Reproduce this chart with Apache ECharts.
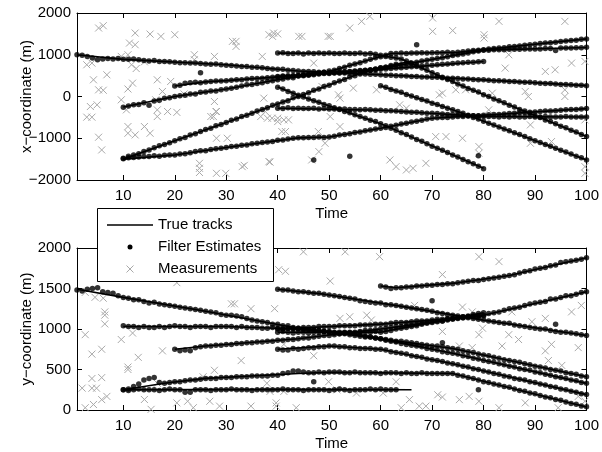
<!DOCTYPE html>
<html>
<head>
<meta charset="utf-8">
<script src="https://cdn.jsdelivr.net/npm/echarts@6/dist/echarts.min.js"></script>
<style>
  html, body { margin: 0; padding: 0; background: #fff; }
  #chart { width: 602px; height: 452px; }
</style>
</head>
<body>
<div id="chart"></div>
<script>
// track order: A C E F B D H I J G
var estStart = [1, 10, 10, 10, 20, 40, 40, 40, 40, 60];

// true tracks, x-coordinate, [time, x] corner points
var xTrue = [
  [[1,1000],[10,890],[30,760],[44,610],[57,540],[74,440],[100,260]],
  [[10,-250],[20,0],[30,180],[40,400],[50,600],[62,1030],[75,1060],[100,1380]],
  [[10,-1500],[20,-1060],[30,-620],[44,0],[57,600],[66,850]],
  [[10,-1500],[20,-1400],[30,-1220],[44,-990],[50,-970],[60,-760],[70,-520],[80,-450],[100,-290]],
  [[20,250],[26,350],[30,380],[40,470],[44,500],[57,620],[66,800],[80,1110],[100,1175]],
  [[40,1040],[58,1030],[64,900],[75,300],[100,-960]],
  [[40,225],[44,30],[60,-650],[80,-1720]],
  [[40,-280],[60,-330],[80,-480],[100,-490]],
  [[40,480],[60,650],[80,840]],
  [[60,257],[75,-358],[100,-1520]]
];

// true tracks, y-coordinate
var yTrue = [
  [[1,1490],[10,1390],[26,1220],[44,1010],[60,880],[74,760],[100,410]],
  [[10,1030],[30,1030],[44,1000],[55,940],[74,700],[100,329]],
  [[10,250],[40,255],[66,250]],
  [[10,250],[18,330],[26,390],[44,450],[50,465],[74,450],[100,36]],
  [[20,750],[26,790],[44,880],[60,1000],[80,1170],[100,1460]],
  [[40,1490],[49,1430],[65,1270],[80,1110],[100,920]],
  [[40,1000],[60,1060],[80,1160]],
  [[40,750],[50,790],[60,750],[74,570],[100,190]],
  [[40,960],[60,960],[80,1200]],
  [[60,1530],[63,1510],[75,1570],[85,1660],[100,1880]]
];

// filter estimates, one value per time step from estStart
var xEst = [
  [1000,990,960,920,880,900,910,900,910,890, 890,900,880,860,850,860,840,840,830,820,810,810,800,800,790,780,770,780,760,750,
   740,730,720,720,700,700,690,670,660,650,650,630,620,610, 600,600,590,580,580,570,570,560,560,550,550,540,540,
   530,530,520,510,510,500,500,490,480,480,470,470,460,460,450,440,440,
   430,420,420,410,400,400,390,380,380,370,360,360,350,340,340,330,320,310,310,300,290,290,280,270,270,260],
  [-260,-230,-200,-190,-150,-210,-110,-90,-40,-30,0, 20,30,60,60,100,110,130,130,160,180, 200,220,250,280,290,310,330,360,380,400,
   420,450,450,490,500,510,550,560,580,610, 630,670,700,750,780,810,850,890,930,950,990,1030,
   1030,1040,1030,1040,1040,1050,1040,1050,1050,1050,1060,1050,1060,
   1070,1090,1100,1110,1120,1140,1150,1160,1170,1190,1200,1210,1230,1240,1250,1270,1280,1290,1300,1320,1330,1340,1350,1370,1380],
  [-1480,-1430,-1400,-1370,-1320,-1280,-1230,-1180,-1150,-1110,-1060,-1010,-980,-920,-890,-840,-790,-760,-700,-670,-620,
   -570,-540,-480,-450,-400,-350,-310,-270,-210,-180,-130,-100,-30,0, 50,90,150,180,240,270,330,370,410,470,500,560,600,
   630,660,690,700,740,770],
  [-1490,-1470,-1460,-1450,-1440,-1440,-1420,-1430,-1410,-1400,-1400, -1380,-1370,-1350,-1320,-1300,-1300,-1270,-1250,-1240,-1220,
   -1200,-1190,-1170,-1160,-1130,-1120,-1100,-1090,-1080,-1050,-1040,-1020,-1000,-990, -990,-980,-980,-970,-980,-970,
   -950,-920,-910,-890,-860,-850,-820,-800,-780,-760, -740,-710,-690,-660,-640,-610,-590,-570,-540,-520,
   -510,-500,-500,-490,-480,-480,-470,-460,-460,-450,
   -440,-430,-430,-420,-410,-400,-390,-390,-380,-370,-360,-350,-350,-340,-330,-320,-310,-310,-300,-290],
  [250,270,320,330,340,330,350, 360,370,370,380, 390,400,400,420,430,430,440,450,460,470, 480,480,490,500,
   510,520,520,540,550,550,560,570,580,590,600,610,620, 640,650,680,700,720,740,760,780,800,
   820,850,870,890,910,930,950,980,1000,1020,1040,1070,1090,1110,
   1110,1120,1120,1120,1130,1130,1130,1140,1140,1140,1140,1150,1150,1100,1160,1160,1160,1170,1170,1180],
  [1040,1050,1030,1030,1040,1020,1040,1030,1040,1030,1040,1030,1030,1040,1030,1030,1040,1020,1030,
   1010,990,960,940,920,900, 850,790,740,680,630,570,520,460,410,360,300,
   250,190,150,110,40,0,-60,-100,-150,-210,-250,-310,-350,-400,-460,-500,-560,-600,-650,-710,-750,-810,-850,-910,-960],
  [220,180,120,80,30, -10,-60,-100,-140,-190,-220,-270,-300,-360,-390,-440,-480,-520,-570,-600,-650,
   -700,-760,-810,-870,-910,-970,-1030,-1070,-1130,-1190,-1240,-1290,-1340,-1400,-1450,-1510,-1560,-1610,-1670,-1730],
  [-280,-290,-270,-290,-280,-290,-290,-280,-300,-290,-300,-300,-310,-300,-310,-310,-320,-310,-320,-330,-330,
   -340,-340,-350,-360,-370,-380,-380,-390,-400,-400,-410,-420,-430,-430,-440,-450,-460,-460,-470,-480,
   -480,-480,-490,-480,-490,-480,-490,-490,-480,-490,-490,-480,-490,-490,-490,-480,-490,-490,-490,-490],
  [480,490,500,500,510,520,530,540,550,560,570,580,590,590,600,610,620,630,630,640,650,
   660,670,680,690,700,710,720,730,740,750,760,770,780,790,800,810,820,820,830,840],
  [260,220,170,130,100,50,10,-30,-70,-110,-160,-190,-240,-280,-320,-360,
   -400,-450,-500,-540,-590,-640,-680,-730,-780,-820,-870,-910,-960,-1010,-1060,-1100,-1150,-1190,-1240,-1290,-1330,-1380,-1430,-1470,-1520]
];

var yEst = [
  [1480,1470,1490,1500,1510,1460,1450,1440,1410,1390, 1380,1360,1360,1340,1320,1330,1310,1300,1290,1280,1270,1260,1250,1240,1230,1220,
   1210,1200,1180,1170,1170,1160,1150,1130,1110,1100,1090,1080,1060,1060,1040,1040,1020,1010,
   1000,990,990,980,970,960,950,940,940,930,920,910,900,900,890,880, 870,860,850,850,840,830,820,810,800,790,790,780,770,760,
   750,730,720,710,690,680,670,650,640,620,610,600,590,570,560,540,530,520,500,490,480,460,450,440,420,410],
  [1040,1030,1030,1020,1030,1020,1020,1030,1020,1030,1040,1030,1030,1020,1030,1030,1030,1020,1030,1030,1030,
   1030,1020,1030,1020,1020,1020,1010,1010,1020,1010,1000,1010,1000,1000, 990,990,980,980,970,970,960,950,950,950,940,
   930,910,900,890,880,860,850,840,820,810,800,790,780,760,750,740,720,710,700,
   690,670,660,640,630,610,600,590,570,560,540,530,510,500,490,470,460,440,430,410,400,390,370,360,340,330],
  [250,240,250,260,250,250,250,240,250,260, 250,250,220,220,250,250,250,240,250,250, 250,260,250,250,250,240,250,250,250,250,
   250,260,250,250,250,240,250,250,250,250, 240,250,260,250,240,250,250,250,260,250, 260,250,250,250],
  [250,260,290,320,370,390,400,340,330, 340,350,350,360,370,370,380,390,
   390,390,400,400,400,410,410,410,420,420,420,420,430,430,450,460,480,480, 470,460,460,470,460,470,
   470,470,460,460,470,460,460,460,460,450,460,460,460,450,460,450,450,460,450,450,450,450,450,450,
   430,420,400,390,370,350,340,320,310,290,280,260,240,230,210,200,180,160,150,130,120,100,80,70,50,40],
  [750,730,740,730,770,780,790, 790,800,800,810,810,820,820,830,830,840,840,850,850,860,860,870,870,880,
   890,890,900,910,920,920,930,940,950,950,960,970,980,980,990,1000,
   1010,1020,1030,1030,1040,1050,1060,1070,1080,1090,1100,1100,1110,1120,1130,1140,1150,1160,1160,1170,
   1190,1200,1210,1230,1250,1260,1270,1290,1310,1320,1330,1340,1370,1370,1390,1410,1410,1430,1450,1460],
  [1490,1480,1480,1470,1460,1460,1450,1440,1440,1430, 1420,1410,1400,1390,1380,1370,1350,1340,1330,1320,1320,1300,1300,1290,1280,1270,
   1260,1250,1240,1230,1220,1200,1190,1180,1170,1160,1150,1140,1130,1120,1110,
   1100,1090,1080,1070,1070,1050,1040,1030,1020,1010,1000,1000,980,970,960,960,950,940,930,920],
  [1000,1000,1010,1010,1010,1020,1020,1020,1030,1030,1030,1030,1040,1040,1040,1040,1050,1050,1050,1060,1060,
   1060,1070,1080,1080,1080,1090,1100,1100,1100,1110,1120,1120,1130,1130,1140,1140,1150,1150,1160,1160],
  [750,740,740,760,750,760,770,770,780,780,790, 790,780,780,770,770,760,760,760,750,750,
   740,720,710,700,690,670,660,650,630,620,610,600,580,570,
   560,540,530,510,500,480,470,450,440,420,410,390,380,370,350,340,320,310,290,280,260,250,230,220,200,190],
  [960,970,960,950,960,960,950,960,960,970,960,950,960,960,960,950,960,960,960,970,960,
   970,980,1000,1010,1020,1030,1040,1060,1070,1080,1090,1100,1120,1130,1140,1150,1160,1180,1190,1200],
  [1530,1520,1500,1510, 1510,1520,1520,1530,1530,1540,1540,1550,1550,1560,1560,1570,
   1580,1590,1600,1600,1610,1620,1630,1640,1650,1660, 1670,1690,1710,1720,1740,1750,1760,1780,1790,1820,1830,1840,1850,1860,1880]
];

// estimates that sit off every track
var xEstStray = [[25,570],[47,-1520],[54,-1430],[67,1240],[79,-1420]];
var yEstStray = [[47,350],[70,1350],[72,830],[79,250],[94,1060]];

// clutter measurements [time, value]
var xMeas = [[5.2,1640],[6.1,1695],[12.3,1520],[15.2,1495],[17.3,1440],[20,1480],[11.2,1280],[12.3,1240],[31.9,1320],[31.9,1200],
  [39,1440],[40,1500],[44.7,1440],[2.9,760],[3.9,800],[9.6,960],[10.9,1000],[11.6,760],[12.5,670],[14.1,830],[23.8,1000],[23.8,880],
  [27.7,960],[4.2,400],[6.8,520],[5.2,160],[6.1,150],[10.9,180],[11.8,320],[16.6,400],[17.6,120],[19.2,360],[16.3,-80],[21.8,60],
  [2.9,-495],[3.9,-495],[3.6,-240],[4.9,-200],[9.6,-80],[10.6,-320],[16.6,-320],[16.6,-480],[18.6,-360],[20.4,-380],[27.5,-480],
  [28.1,-360],[37.6,-360],[38,-520],[40,-520],[40,-600],[41.2,-560],[5.2,-975],[5.8,-1280],[10.9,-720],[10.9,-880],[12.3,-920],
  [14.1,-720],[15.2,-880],[41.5,-840],[28.1,-1000],[24.8,-1600],[24.8,-1720],[24.8,-1820],[28.1,-1840],[33.5,-1650],[38.5,-1570],
  [50.2,1440],[54,1640],[56.3,1800],[57.9,1920],[70.1,1880],[70.1,1560],[74,1580],[83,1800],[95.8,1800],[80.1,1480],[80.1,1400],
  [47,800],[48.6,240],[54.7,200],[51.8,40],[52.1,-40],[59.2,160],[63.7,-200],[65,-280],[50.2,-480],[52.1,-720],[49.2,-1120],
  [48,-1320],[46.6,-1520],[61.8,-1520],[63,-1680],[65,-1760],[66.3,-1720],[68.8,-1600],[70.7,-960],[72.7,-960],[75.9,-1000],
  [71.4,40],[72,80],[74.6,160],[76.5,160],[79.1,-1200],[79.1,-1360],[84.2,680],[84.9,1000],[88.1,120],[88.7,0],[92,600],[93.9,640],
  [95.8,160],[95.8,0],[97.1,800],[89.1,-680],[89.1,-1120],[93.2,-1080],[99.7,840],[99.7,-560],[99.7,-1680],[99.7,-1840],[81.7,80],
  [81,-320],[31.2,1320],[38.3,1480],[39.2,1520],[44.1,1440],[49.8,1440],[27.7,-120],[28,-360],[27,-480],[37,960],[37.3,-40],
  [36.7,-480],[38.9,-520],[42.1,-560],[40.8,-840],[30.2,-1000],[33.1,-1680],[38.3,-1560],[29.9,-1840],[47.9,-840]];

var yMeas = [[2.6,1452],[4.5,1391],[6.1,1380],[6.4,1211],[6.4,1171],[6.4,1063],[2.6,930],[9.6,870],[3.9,690],[5.8,750],[3.9,389],
  [4.8,269],[3.9,269],[5.8,400],[5.8,128],[6.8,168],[4.2,68],[2.6,28],[2,270],[10.9,530],[10.9,500],[11.8,950],[12.9,650],[14.1,130],
  [15.4,8],[16.6,330],[17.6,730],[20.4,1572],[20.4,88],[22.5,108],[23.6,28],[25.5,410],[26.8,108],[27.7,490],[28.7,48],[31,1311],
  [31.6,1311],[34.8,1251],[34.8,48],[32.9,610],[37.9,330],[38.5,230],[39.4,1251],[39.7,88],[39.7,48],[41.2,230],[41.2,810],
  [41.5,1712],[40.2,1732],[43.6,28],[45,1953],[53.1,1953],[59.8,1893],[79.1,1893],[83,1832],[50.2,1592],[72,1672],[52.1,1131],
  [54,1151],[57.3,1171],[66.6,1291],[75.9,1271],[77.8,1211],[79.8,1010],[79.1,930],[84.9,930],[89.4,1090],[92,1131],[97.1,1211],
  [99,1291],[93.2,810],[92,730],[47,670],[49.9,349],[51.5,249],[55.3,209],[60.5,209],[63,349],[65.6,128],[64,28],[67.5,48],
  [68.8,48],[71.1,188],[72,160],[75.3,128],[77.2,168],[79.1,108],[83,28],[88.1,88],[94.5,28],[98.4,168],[99.7,108],[75.3,790],
  [77.8,770],[72,970],[83.6,790],[86.8,870],[92.6,610],[95.2,550],[98.4,770],[58.2,1111],[85.5,1211]];

var timeTicks = [10, 20, 30, 40, 50, 60, 70, 80, 90, 100];

var FONT = '"Liberation Sans", Arial, sans-serif';
var XMARK = 'path://M0,0L10,10M10,0L0,10';

var chart = echarts.init(document.getElementById('chart'), null, { renderer: 'canvas' });

function minus(v) {
  return String(v).replace('-', '\u2212');
}

function timeAxis(grid, pos, withLabels) {
  return {
    type: 'value', gridIndex: grid, position: pos, min: 1, max: 100,
    axisLine: { show: true, onZero: false, lineStyle: { color: '#000', width: 1 } },
    axisTick: { show: true, inside: true, length: 5, customValues: timeTicks, lineStyle: { color: '#000' } },
    axisLabel: { show: withLabels, customValues: timeTicks, color: '#000', fontSize: 15, fontFamily: FONT, margin: 8 },
    splitLine: { show: false },
    name: withLabels ? 'Time' : '', nameLocation: 'middle', nameGap: 26, nameMoveOverlap: false,
    nameTextStyle: { color: '#000', fontSize: 15, fontFamily: FONT }
  };
}

function valueAxis(grid, pos, min, max, step, title) {
  var withLabels = pos === 'left';
  return {
    type: 'value', gridIndex: grid, position: pos, min: min, max: max, interval: step,
    axisLine: { show: true, onZero: false, lineStyle: { color: '#000', width: 1 } },
    axisTick: { show: true, inside: true, length: 5, lineStyle: { color: '#000' } },
    axisLabel: { show: withLabels, color: '#000', fontSize: 15, fontFamily: FONT, margin: 6, formatter: minus },
    splitLine: { show: false },
    name: withLabels ? title : '', nameLocation: 'middle', nameGap: 43, nameMoveOverlap: false,
    nameTextStyle: { color: '#000', fontSize: 15, fontFamily: FONT }
  };
}

function estPoints(est) {
  var pts = [];
  est.forEach(function (vals, i) {
    vals.forEach(function (v, j) { pts.push([estStart[i] + j, v]); });
  });
  return pts;
}

var series = [];
[[xTrue, xEst, xEstStray, xMeas], [yTrue, yEst, yEstStray, yMeas]].forEach(function (set, k) {
  series.push({
    type: 'scatter', name: 'Measurements', xAxisIndex: 2 * k, yAxisIndex: 2 * k,
    data: set[3], symbol: XMARK, symbolSize: 7, z: 2, silent: true,
    itemStyle: { color: 'none', borderColor: '#a9a9a9', borderWidth: 1, opacity: 1 }
  });
  set[0].forEach(function (track) {
    series.push({
      type: 'line', name: 'True tracks', xAxisIndex: 2 * k, yAxisIndex: 2 * k,
      data: track, showSymbol: false, symbol: 'none', z: 3, silent: true,
      lineStyle: { color: '#000', width: 1.6 }
    });
  });
  series.push({
    type: 'scatter', name: 'Filter Estimates', xAxisIndex: 2 * k, yAxisIndex: 2 * k,
    data: estPoints(set[1]).concat(set[2]), symbolSize: 5.5, z: 4, silent: true,
    itemStyle: { color: '#000' }
  });
});

var legendText = { fontSize: 15, fontFamily: FONT, fill: '#000', verticalAlign: 'middle' };

var option = {
  animation: false,
  backgroundColor: '#fff',
  grid: [
    { left: 77, top: 13, width: 512, height: 167 },
    { left: 77, top: 248, width: 512, height: 166 }
  ],
  xAxis: [timeAxis(0, 'bottom', true), timeAxis(0, 'top', false), timeAxis(1, 'bottom', true), timeAxis(1, 'top', false)],
  yAxis: [
    valueAxis(0, 'left', -2000, 2000, 1000, 'x\u2212coordinate (m)'),
    valueAxis(0, 'right', -2000, 2000, 1000, ''),
    valueAxis(1, 'left', 0, 2000, 500, 'y\u2212coordinate (m)'),
    valueAxis(1, 'right', 0, 2000, 500, '')
  ],
  series: series,
  graphic: [
    { type: 'rect', z: 100, shape: { x: 97.5, y: 208.5, width: 176, height: 73 }, style: { fill: '#fff', stroke: '#000', lineWidth: 1 } },
    { type: 'line', z: 101, shape: { x1: 107, y1: 225, x2: 153, y2: 225 }, style: { stroke: '#000', lineWidth: 1.5 } },
    { type: 'circle', z: 101, shape: { cx: 130, cy: 247, r: 2.5 }, style: { fill: '#000' } },
    { type: 'line', z: 101, shape: { x1: 126.5, y1: 265.5, x2: 133.5, y2: 272.5 }, style: { stroke: '#a9a9a9', lineWidth: 1 } },
    { type: 'line', z: 101, shape: { x1: 133.5, y1: 265.5, x2: 126.5, y2: 272.5 }, style: { stroke: '#a9a9a9', lineWidth: 1 } },
    { type: 'text', z: 101, x: 158, y: 225, style: Object.assign({ text: 'True tracks' }, legendText) },
    { type: 'text', z: 101, x: 158, y: 247, style: Object.assign({ text: 'Filter Estimates' }, legendText) },
    { type: 'text', z: 101, x: 158, y: 269, style: Object.assign({ text: 'Measurements' }, legendText) }
  ]
};

chart.setOption(option);
</script>
</body>
</html>
